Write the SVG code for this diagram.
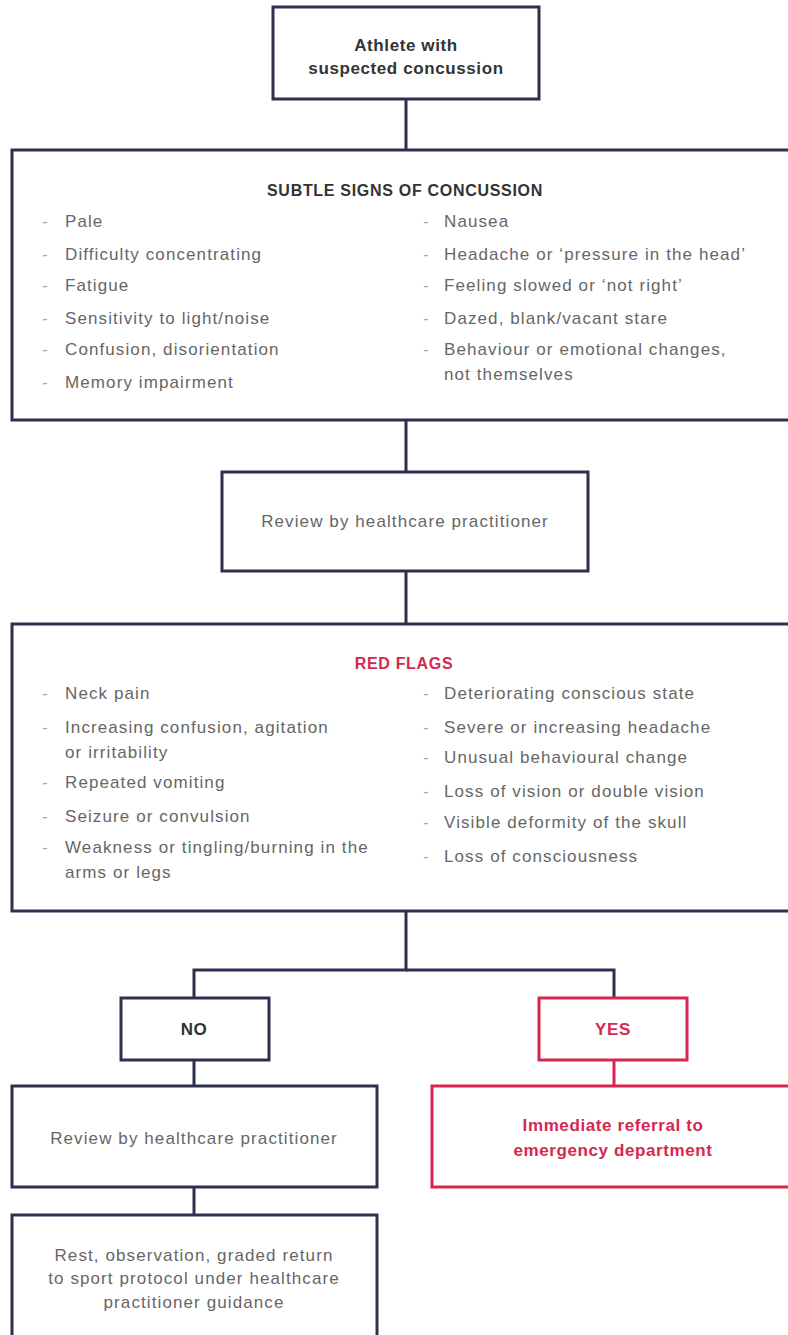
<svg xmlns="http://www.w3.org/2000/svg" width="788" height="1335" viewBox="0 0 788 1335">
<style>
.box{fill:#fff;stroke:#2e3050;stroke-width:3}
.rbox{fill:#fff;stroke:#d62750;stroke-width:3}
.ln{fill:none;stroke:#2e3050;stroke-width:3}
.rln{fill:none;stroke:#d62750;stroke-width:3}
text{font-family:"Liberation Sans",Arial,sans-serif}
.t{font-size:17px;fill:#666;letter-spacing:1.1px}
.b{font-size:17px;fill:#333;font-weight:bold;letter-spacing:0.6px}
.h{font-size:16px;fill:#333;font-weight:bold;letter-spacing:0.7px}
.rh{font-size:16px;fill:#d62750;font-weight:bold;letter-spacing:0.7px}
.rb{font-size:17px;fill:#d62750;font-weight:bold;letter-spacing:0.6px}
.d{font-size:17px;fill:#aaa}
.c{text-anchor:middle}
</style>
<g id="connectors">
<line class="ln" x1="406" y1="99" x2="406" y2="150"/>
<line class="ln" x1="406" y1="420" x2="406" y2="472"/>
<line class="ln" x1="406" y1="571" x2="406" y2="624"/>
<polyline class="ln" points="406,911 406,970 194,970 194,998"/>
<polyline class="ln" points="406,970 614,970 614,998"/>
<line class="ln" x1="194" y1="1060" x2="194" y2="1086"/>
<line class="rln" x1="614" y1="1060" x2="614" y2="1086"/>
<line class="ln" x1="194" y1="1187" x2="194" y2="1215"/>
</g>
<g id="start">
<rect class="box" x="273" y="7" width="266" height="92"/>
<text class="b c" x="406" y="51">Athlete with</text>
<text class="b c" x="406" y="74">suspected concussion</text>
</g>
<g id="subtle-signs">
<rect class="box" x="12" y="150" width="790" height="270"/>
<text class="h c" x="405" y="196">SUBTLE SIGNS OF CONCUSSION</text>
<g class="d"><text x="42" y="227">-</text><text x="42" y="260">-</text><text x="42" y="291">-</text><text x="42" y="324">-</text><text x="42" y="355">-</text><text x="42" y="388">-</text>
<text x="423" y="227">-</text><text x="423" y="260">-</text><text x="423" y="291">-</text><text x="423" y="324">-</text><text x="423" y="355">-</text></g>
<text class="t" x="65" y="227">Pale</text>
<text class="t" x="65" y="260">Difficulty concentrating</text>
<text class="t" x="65" y="291">Fatigue</text>
<text class="t" x="65" y="324">Sensitivity to light/noise</text>
<text class="t" x="65" y="355">Confusion, disorientation</text>
<text class="t" x="65" y="388">Memory impairment</text>
<text class="t" x="444" y="227">Nausea</text>
<text class="t" x="444" y="260">Headache or ‘pressure in the head’</text>
<text class="t" x="444" y="291">Feeling slowed or ‘not right’</text>
<text class="t" x="444" y="324">Dazed, blank/vacant stare</text>
<text class="t" x="444" y="355">Behaviour or emotional changes,</text>
<text class="t" x="444" y="380">not themselves</text>
</g>
<g id="review-1">
<rect class="box" x="222" y="472" width="366" height="99"/>
<text class="t c" x="405" y="527">Review by healthcare practitioner</text>
</g>
<g id="red-flags">
<rect class="box" x="12" y="624" width="790" height="287"/>
<text class="rh c" x="404" y="669">RED FLAGS</text>
<g class="d"><text x="42" y="699">-</text><text x="42" y="733">-</text><text x="42" y="788">-</text><text x="42" y="822">-</text><text x="42" y="853">-</text>
<text x="423" y="699">-</text><text x="423" y="733">-</text><text x="423" y="763">-</text><text x="423" y="797">-</text><text x="423" y="828">-</text><text x="423" y="862">-</text></g>
<text class="t" x="65" y="699">Neck pain</text>
<text class="t" x="65" y="733">Increasing confusion, agitation</text>
<text class="t" x="65" y="758">or irritability</text>
<text class="t" x="65" y="788">Repeated vomiting</text>
<text class="t" x="65" y="822">Seizure or convulsion</text>
<text class="t" x="65" y="853">Weakness or tingling/burning in the</text>
<text class="t" x="65" y="878">arms or legs</text>
<text class="t" x="444" y="699">Deteriorating conscious state</text>
<text class="t" x="444" y="733">Severe or increasing headache</text>
<text class="t" x="444" y="763">Unusual behavioural change</text>
<text class="t" x="444" y="797">Loss of vision or double vision</text>
<text class="t" x="444" y="828">Visible deformity of the skull</text>
<text class="t" x="444" y="862">Loss of consciousness</text>
</g>
<g id="no">
<rect class="box" x="121" y="998" width="148" height="62"/>
<text class="b c" x="194" y="1035">NO</text>
</g>
<g id="yes">
<rect class="rbox" x="539" y="998" width="148" height="62"/>
<text class="rb c" x="613" y="1035">YES</text>
</g>
<g id="review-2">
<rect class="box" x="12" y="1086" width="365" height="101"/>
<text class="t c" x="194" y="1144">Review by healthcare practitioner</text>
</g>
<g id="referral">
<rect class="rbox" x="432" y="1086" width="370" height="101"/>
<text class="rb c" x="613" y="1131">Immediate referral to</text>
<text class="rb c" x="613" y="1156">emergency department</text>
</g>
<g id="rest">
<rect class="box" x="12" y="1215" width="365" height="130"/>
<text class="t c" x="194" y="1261">Rest, observation, graded return</text>
<text class="t c" x="194" y="1284">to sport protocol under healthcare</text>
<text class="t c" x="194" y="1308">practitioner guidance</text>
</g>
</svg>
